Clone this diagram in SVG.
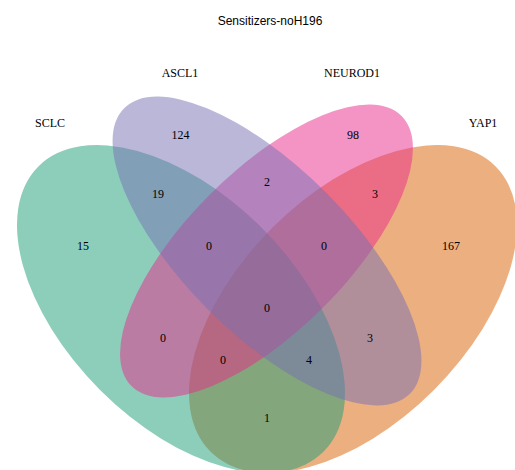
<svg xmlns="http://www.w3.org/2000/svg" width="515" height="470" viewBox="0 0 515 470">
<style>
.set{fill-opacity:0.5;stroke:none}
.lbl{font-family:"Liberation Serif","Times New Roman",serif;font-size:12px;fill:#000;text-anchor:middle}
.num{font-family:"Liberation Serif","Times New Roman",serif;font-size:12px;fill:#000;text-anchor:middle}
.title{font-family:"Liberation Sans",Arial,sans-serif;font-size:12px;fill:#000;text-anchor:middle}
</style>
<rect width="515" height="470" fill="#fff"/>
<text class="title" x="270" y="25">Sensitizers-noH196</text>
<g id="YAP1">
<ellipse class="set" fill="#d95f02" cx="0" cy="0" rx="201.7" ry="114.5" transform="translate(353,309) rotate(-45)"/>
</g>
<g id="SCLC">
<ellipse class="set" fill="#1b9e77" cx="0" cy="0" rx="201.7" ry="114.5" transform="translate(181,309) rotate(45)"/>
</g>
<g id="NEUROD1">
<ellipse class="set" fill="#e7298a" cx="0" cy="0" rx="191" ry="80" transform="translate(266.5,251) rotate(-45)"/>
</g>
<g id="ASCL1">
<ellipse class="set" fill="#7570b3" cx="0" cy="0" rx="202" ry="83" transform="translate(267,251) rotate(45)"/>
</g>
<g id="connectors"></g>
<g id="labels">
<text class="lbl" x="50" y="127">SCLC</text>
<text class="lbl" x="180" y="77">ASCL1</text>
<text class="lbl" x="352" y="77">NEUROD1</text>
<text class="lbl" x="483" y="127">YAP1</text>
</g>
<g id="counts">
<text class="num" x="180.5" y="139">124</text>
<text class="num" x="353" y="139">98</text>
<text class="num" x="158" y="198">19</text>
<text class="num" x="267" y="186">2</text>
<text class="num" x="375" y="198">3</text>
<text class="num" x="83" y="250">15</text>
<text class="num" x="209" y="250">0</text>
<text class="num" x="324" y="250">0</text>
<text class="num" x="451" y="250">167</text>
<text class="num" x="267" y="312">0</text>
<text class="num" x="163" y="342">0</text>
<text class="num" x="370" y="342">3</text>
<text class="num" x="223" y="364">0</text>
<text class="num" x="309" y="364">4</text>
<text class="num" x="267" y="422">1</text>
</g>
</svg>
